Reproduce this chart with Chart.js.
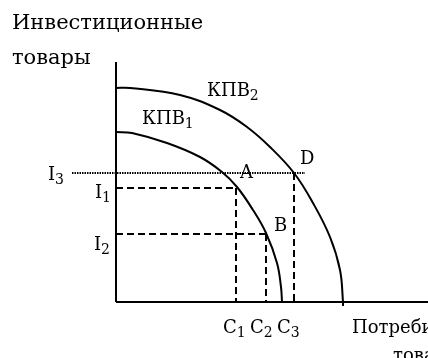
<!DOCTYPE html>
<html lang="ru">
<head>
<meta charset="utf-8">
<script src="https://cdn.jsdelivr.net/npm/chart.js@4"></script>
<style>
  html, body { margin: 0; padding: 0; background: #fff; }
  #wrap { width: 428px; height: 358px; }
</style>
</head>
<body>
<div id="wrap"><canvas id="kpvChart"></canvas></div>
<script>
// Кривые производственных возможностей (точки)
const kpv1Points = [[0, 170], [16, 169], [51, 159], [84, 145], [106, 130], [121, 115],
                    [137, 92], [150, 69], [161, 39], [165, 15], [166, 0]];
const kpv2Points = [[0, 214], [14, 214], [64, 207], [104, 192], [131, 175], [154, 155],
                    [178, 129], [197, 99], [214, 65], [224, 32], [227, 0], [227, -4]];

// Уровни: I1, I2, I3 и C1, C2, C3
const investLevels = [114, 68, 129];
const consumeLevels = [120, 150, 178];
const dottedStart = -44, dottedEnd = 189;

// Оси
const axisX = [[0, 0], [312, 0]];
const axisY = [[0, 0], [0, 240]];

// Подписи: текст, индекс, x, y (в единицах графика)
const labels = [
    ['Инвестиционные', '', -104, 273, 21],
    ['товары', '', -104, 238, 21],
    ['КПВ', '2', 91, 206, 18],
    ['КПВ', '1', 26, 178, 18],
    ['I', '3', -68, 122, 18],
    ['I', '1', -21, 104, 18],
    ['I', '2', -22, 52, 18],
    ['A', '', 124, 124, 18],
    ['D', '', 184, 138, 18],
    ['B', '', 158, 71, 18],
    ['C', '1', 107, -31, 18],
    ['C', '2', 134, -31, 18],
    ['C', '3', 161, -31, 18],
    ['Потребительские', '', 236, -31, 18],
    ['товары', '', 277, -59, 18]
];

document.addEventListener("DOMContentLoaded", () => {
    const toXY = pts => pts.map(p => ({ x: p[0], y: p[1] }));

    const solid = (pts, w, t) => ({
        data: toXY(pts), borderColor: '#000', borderWidth: w, tension: t,
        pointRadius: 0, showLine: true, clip: false
    });
    const dashed = (pts, dash) => ({
        data: toXY(pts), borderColor: '#000', borderWidth: 2, borderDash: dash,
        pointRadius: 0, showLine: true, clip: false
    });

    const [i1, i2, i3] = investLevels;
    const [c1, c2, c3] = consumeLevels;
    const dash = [7, 4];

    const datasets = [
        solid(axisX, 2, 0),
        solid(axisY, 2, 0),
        solid(kpv1Points, 2, 0.4),
        solid(kpv2Points, 2, 0.4),
        dashed([[0, i1], [c1, i1]], dash),
        dashed([[c1, i1], [c1, 0]], dash),
        dashed([[0, i2], [c2, i2]], dash),
        dashed([[c2, i2], [c2, 0]], dash),
        dashed([[c3, i3], [c3, 0]], dash),
        dashed([[dottedStart, i3], [dottedEnd, i3]], [1.5, 1])
    ];

    // Рисуем подписи с нижними индексами
    const labelPlugin = {
        id: 'labels',
        afterDraw(chart) {
            const ctx = chart.ctx;
            const sx = chart.scales.x, sy = chart.scales.y;
            ctx.save();
            ctx.fillStyle = '#000';
            ctx.textBaseline = 'alphabetic';
            labels.forEach(([text, sub, x, y, size]) => {
                const px = sx.getPixelForValue(x), py = sy.getPixelForValue(y);
                ctx.font = size + 'px "DejaVu Serif"';
                ctx.fillText(text, px, py);
                if (sub) {
                    const w = ctx.measureText(text).width;
                    ctx.font = '14px "DejaVu Serif"';
                    ctx.fillText(sub, px + w, py + 4);
                }
            });
            ctx.restore();
        }
    };

    new Chart(document.getElementById('kpvChart'), {
        type: 'scatter',
        data: { datasets },
        options: {
            responsive: true,
            maintainAspectRatio: false,
            animation: false,
            layout: { padding: { left: 0, right: 0, top: 0, bottom: 56 } },
            scales: {
                x: { type: 'linear', display: false, min: -116, max: 312 },
                y: { type: 'linear', display: false, min: 0, max: 302 }
            },
            plugins: { legend: { display: false }, tooltip: { enabled: false } }
        },
        plugins: [labelPlugin]
    });
});
</script>
</body>
</html>
